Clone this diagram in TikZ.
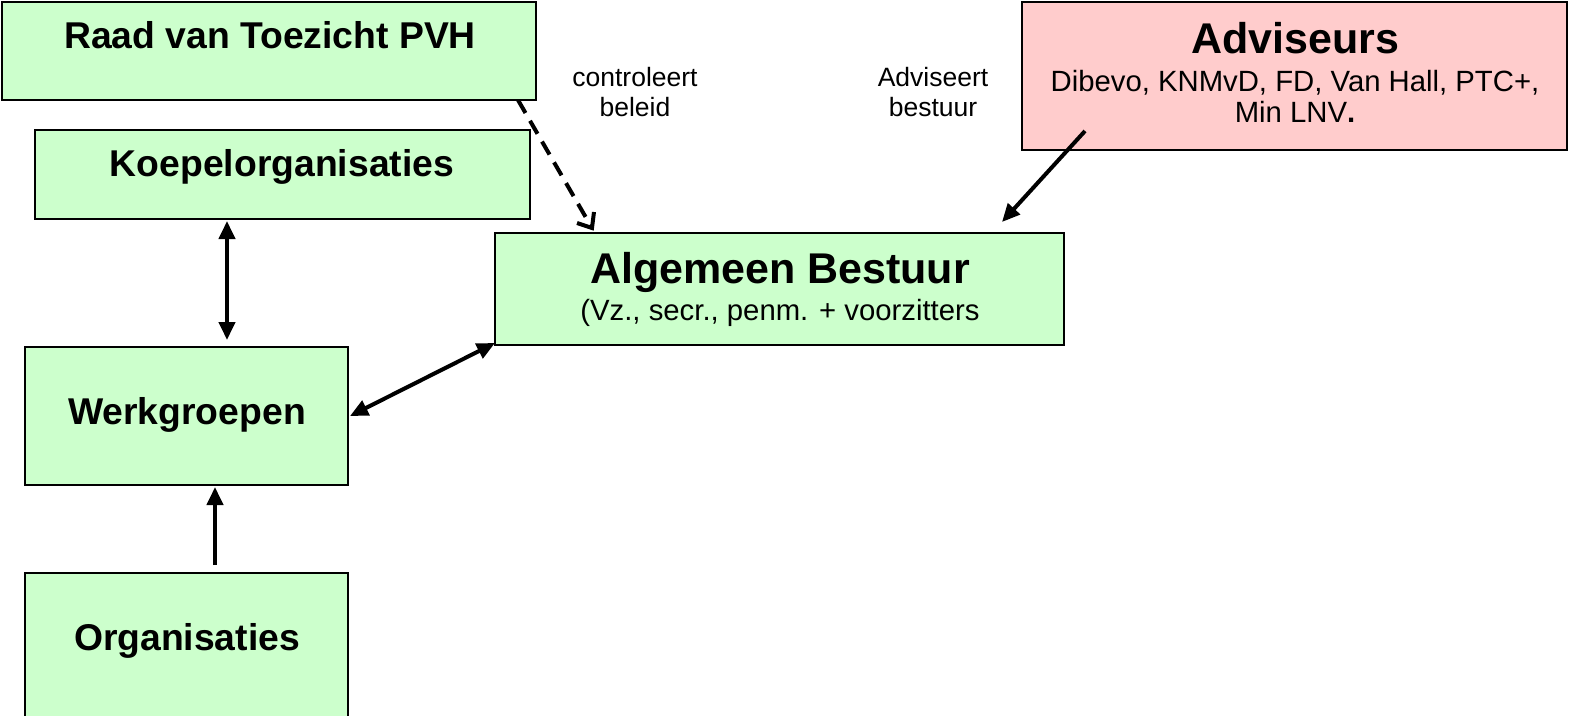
\documentclass[tikz,border=0pt]{standalone}
\usepackage{fontspec}
\setmainfont{Liberation Sans}
\usetikzlibrary{arrows.meta}
\definecolor{boxgreen}{HTML}{CCFFCC}
\definecolor{boxpink}{HTML}{FFCCCC}
\begin{document}
\begin{tikzpicture}[x=1pt,y=-1pt,
  box/.style={draw=black,line width=2pt,inner sep=0pt,outer sep=0pt},
  gbox/.style={box,fill=boxgreen},
  pbox/.style={box,fill=boxpink},
  bigtxt/.style={anchor=base,inner sep=0pt,font=\fontsize{37.3pt}{40pt}\selectfont\bfseries},
  hugetxt/.style={anchor=base,inner sep=0pt,font=\fontsize{43pt}{46pt}\selectfont\bfseries},
  subtxt/.style={anchor=base,inner sep=0pt,font=\fontsize{29.3pt}{31pt}\selectfont},
  lbltxt/.style={anchor=base,inner sep=0pt,align=center,font=\fontsize{26.5pt}{30pt}\selectfont},
  arr/.style={line width=4pt,-{Triangle[length=18pt,width=16pt]}},
  darr/.style={line width=4pt,{Triangle[length=18pt,width=16pt]}-{Triangle[length=18pt,width=16pt]}},
  dashline/.style={line width=4pt,dash pattern=on 15pt off 9pt},
  vtip/.style={line width=4pt,line cap=butt,line join=miter}
]
\useasboundingbox (0,0) rectangle (1577,715);
% boxes
\node[gbox,minimum width=534pt,minimum height=98pt] (raad) at (269,51) {};
\node[gbox,minimum width=495pt,minimum height=89pt] (koepel) at (282.5,174.5) {};
\node[gbox,minimum width=323pt,minimum height=138pt] (werk) at (186.5,416) {};
\node[gbox,minimum width=323pt,minimum height=149pt] (org) at (186.5,647.5) {};
\node[gbox,minimum width=569pt,minimum height=112pt] (ab) at (779.5,289) {};
\node[pbox,minimum width=545pt,minimum height=148pt] (adv) at (1294.5,76) {};
% texts
\node[bigtxt] (traad) at (270,48) {Raad van Toezicht PVH};
\node[bigtxt] (tkoepel) at (282,176) {Koepelorganisaties};
\node[bigtxt] (twerk) at (187,424) {Werkgroepen};
\node[bigtxt] (torg) at (187,650) {Organisaties};
\node[hugetxt] (tab) at (780,283) {Algemeen Bestuur};
\node[subtxt] (tab2) at (780,320) {(Vz., secr., penm. + voorzitters};
\node[hugetxt] (tadv) at (1295,53) {Adviseurs};
\node[subtxt] (tadv2) at (1295,91) {Dibevo, KNMvD, FD, Van Hall, PTC+,};
\node[subtxt] (tadv3) at (1295,122) {Min LNV\textbf{.}};
\node[lbltxt] (lctrl) at (635,116) {controleert\\beleid};
\node[lbltxt] (ladv) at (933,116) {Adviseert\\bestuur};
% connectors
\coordinate (dtip) at ([xshift=97pt,yshift=5pt]ab.north west);
\draw[dashline] ([xshift=-18pt]raad.south east) -- (dtip);
\draw[vtip] ([xshift=-15pt,yshift=5pt]dtip) -- (dtip) -- ([xshift=2pt,yshift=16pt]dtip);
\draw[darr] ([xshift=192pt,yshift=-2pt]koepel.south west) -- ([xshift=202pt,yshift=7pt]werk.north west);
\draw[darr] ([xshift=2pt]werk.east) -- ([yshift=2pt]ab.south west);
\draw[arr] ([xshift=190pt,yshift=8pt]org.north west) -- ([xshift=190pt,yshift=-2pt]werk.south west);
\draw[arr] ([xshift=63pt,yshift=19pt]adv.south west) -- ([xshift=-62pt,yshift=11pt]ab.north east);
\end{tikzpicture}
\end{document}
